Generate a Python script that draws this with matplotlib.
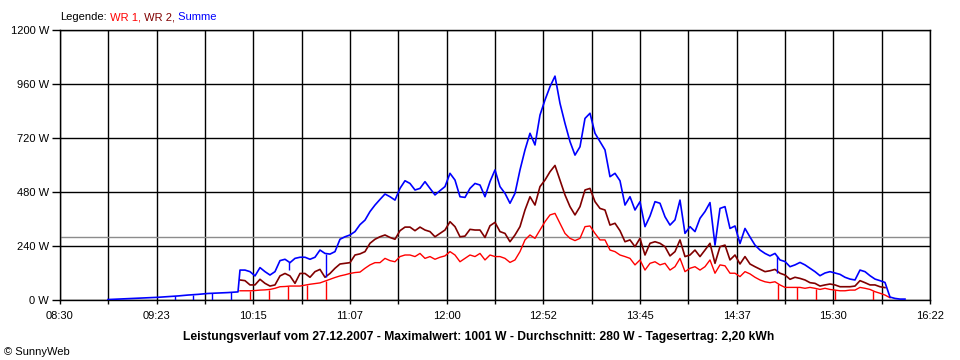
import numpy as np
import matplotlib
matplotlib.use("Agg")
import matplotlib.pyplot as plt

plt.rcParams['font.family'] = ['Liberation Sans', 'DejaVu Sans']


def clock(s):
    p = [int(v) for v in s.split(":")]
    while len(p) < 3:
        p.append(0)
    return p[0] * 60 + p[1] + p[2] / 60.0


# ---------------- data ----------------
x_tick_labels = ["08:30", "09:23", "10:15", "11:07", "12:00",
                 "12:52", "13:45", "14:37", "15:30", "16:22"]
y_ticks = [0, 240, 480, 720, 960, 1200]
y_tick_labels = ["0 W", "240 W", "480 W", "720 W", "960 W", "1200 W"]

average_w = 280

# Summe before the two inverters report (08:56 .. 10:06)
summe_early_start, summe_early_end = "08:56:02", "10:06:34"
summe_early = [2, 4, 6, 8, 10, 12, 15, 18, 22, 25, 29, 31, 33, 36]

# main logging grid (10:07:39 .. 16:08:26)
main_start, main_end = "10:07:39", "16:08:26"

summe = [133, 133, 126, 107, 144, 126, 111, 126, 175, 181,
         166, 185, 190, 190, 181, 190, 222, 207, 204, 215,
         270, 281, 289, 304, 335, 355, 393, 422, 447, 471,
         459, 444, 496, 530, 518, 489, 496, 526, 496, 467,
         486, 504, 563, 533, 459, 456, 496, 518, 511, 459,
         526, 578, 504, 474, 430, 474, 578, 667, 741, 689,
         822, 889, 948, 995, 874, 785, 704, 644, 681, 807,
         830, 741, 704, 667, 548, 563, 530, 422, 459, 400,
         437, 326, 373, 437, 430, 370, 333, 356, 444, 296,
         326, 304, 363, 393, 433, 244, 407, 415, 318, 329,
         251, 318, 280, 244, 222, 207, 196, 207, 178, 171,
         148, 156, 167, 156, 141, 126, 108, 120, 126, 120,
         114, 101, 93, 89, 133, 126, 108, 93, 86, 78,
         13, 7, 4, 4]

wr2 = [89, 86, 67, 67, 92, 74, 62, 67, 107, 118,
       107, 74, 118, 118, 101, 126, 136, 101, 118, 141,
       160, 163, 166, 200, 205, 215, 252, 270, 281, 289,
       278, 270, 308, 324, 324, 308, 324, 311, 304, 281,
       296, 311, 348, 326, 281, 284, 314, 311, 311, 278,
       330, 345, 304, 296, 259, 289, 326, 400, 459, 422,
       504, 533, 570, 598, 533, 467, 415, 378, 415, 489,
       496, 437, 407, 400, 333, 341, 308, 259, 267, 237,
       274, 200, 252, 259, 252, 237, 196, 215, 267, 193,
       200, 222, 193, 222, 252, 163, 237, 244, 178, 200,
       160, 193, 160, 148, 137, 126, 130, 136, 119, 111,
       92, 101, 96, 89, 77, 74, 62, 67, 71, 67,
       59, 59, 59, 62, 86, 77, 67, 67, 59, 55,
       None, None, None, None]

wr1 = [41, 41, 41, 42, 44, 45, 47, 52, 59, 60,
       62, 62, 62, 66, 70, 73, 76, 84, 92, 100,
       107, 112, 118, 122, 124, 141, 156, 166, 166, 185,
       175, 170, 193, 200, 200, 193, 207, 185, 193, 181,
       190, 196, 215, 200, 170, 185, 200, 193, 207, 178,
       200, 193, 193, 185, 167, 178, 215, 267, 289, 274,
       311, 348, 378, 385, 341, 296, 274, 264, 274, 326,
       329, 296, 267, 267, 222, 215, 200, 193, 185, 156,
       178, 133, 163, 170, 156, 163, 133, 148, 185, 126,
       141, 148, 133, 148, 178, 119, 156, 152, 119, 119,
       104, 126, 116, 101, 89, 81, 77, 81, 67, 56,
       56, 56, 56, 52, 56, 52, 47, 52, 47, 44,
       41, 41, 44, 44, 56, 52, 47, 37, 30, 22,
       10, None, None, None]

# short drop-outs (time, lowest value)
wr1_dips = [("10:13:05", 0), ("10:23:23", 0), ("10:33:42", 0), ("10:44:00", 0),
            ("10:54:19", 0), ("14:59:32", 0), ("15:09:50", 0), ("15:20:09", 0),
            ("15:30:28", 0), ("15:51:05", 0)]
summe_dips = [("09:32:23", 0), ("09:42:10", 0), ("09:52:28", 0), ("10:02:46", 0),
              ("10:34:14", 133), ("10:54:19", 104), ("14:59:00", 120)]

title = ("Leistungsverlauf vom 27.12.2007 - Maximalwert: 1001 W - "
         "Durchschnitt: 280 W - Tagesertrag: 2,20 kWh")

# ---------------- figure ----------------
RED, MAROON, BLUE = "#ff0000", "#800000", "#0000ff"

fig = plt.figure(figsize=(9.6, 3.6), dpi=100)
fig.patch.set_facecolor("white")
ax = fig.add_axes([60 / 960, 1 - 300 / 360, 870 / 960, 270 / 360])

x0, x1 = clock(x_tick_labels[0]), clock(x_tick_labels[-1])
ax.set_xlim(x0, x1)
ax.set_ylim(0, 1200)

major = np.linspace(x0, x1, len(x_tick_labels))
minor = (major[:-1] + major[1:]) / 2
ax.set_xticks(major)
ax.set_xticklabels(x_tick_labels)
ax.set_xticks(minor, minor=True)
ax.set_yticks(y_ticks)
ax.set_yticklabels(y_tick_labels)

for xv in list(major) + list(minor):
    ax.axvline(xv, color="black", lw=1.0, zorder=1)
for yv in y_ticks:
    ax.axhline(yv, color="black", lw=1.0, zorder=1)

ax.axhline(average_w, color="#8c8c8c", lw=1.0, zorder=2)

t_early = np.linspace(clock(summe_early_start), clock(summe_early_end), len(summe_early))
t_main = np.linspace(clock(main_start), clock(main_end), len(summe))

wr1_a = np.array([np.nan if v is None else v for v in wr1], dtype=float)
wr2_a = np.array([np.nan if v is None else v for v in wr2], dtype=float)
summe_t = np.concatenate([t_early, t_main])
summe_a = np.concatenate([np.array(summe_early, float), np.array(summe, float)])

ax.plot(t_main, wr1_a, color=RED, lw=1.0, zorder=3)
ax.plot(t_main, wr2_a, color=MAROON, lw=1.2, zorder=4)
ax.plot(summe_t, summe_a, color=BLUE, lw=1.2, zorder=5)

ok1 = ~np.isnan(wr1_a)
for ts, low in wr1_dips:
    t = clock(ts)
    top = np.interp(t, t_main[ok1], wr1_a[ok1])
    ax.vlines(t, low, top, color=RED, lw=1.0, zorder=3)
for ts, low in summe_dips:
    t = clock(ts)
    top = np.interp(t, summe_t, summe_a)
    ax.vlines(t, low, top, color=BLUE, lw=1.0, zorder=5)

for s in ax.spines.values():
    s.set_color("black")
    s.set_linewidth(1.0)

ax.tick_params(axis="y", which="major", direction="out", length=6, width=1,
               pad=2, labelsize=8, colors="black")
ax.tick_params(axis="x", which="both", direction="out", length=3, width=1,
               pad=5, labelsize=8, colors="black")

# legend line (multi-coloured)
t0 = ax.text(0.0, 1.048, "Legende:", transform=ax.transAxes, fontsize=8,
             ha="left", va="center", color="black")
prev = t0
for s, c in [(" WR 1,", RED), (" WR 2,", MAROON), (" Summe", BLUE)]:
    prev = ax.annotate(s, xy=(1, 0), xycoords=prev, ha="left", va="bottom",
                       fontsize=8, color=c, annotation_clip=False)

fig.text(479 / 960, 1 - 337 / 360, title, ha="center", va="center",
         fontsize=8.7, fontweight="bold", color="black")
fig.text(4 / 960, 1 - 352 / 360, "\u00a9 SunnyWeb", ha="left", va="center",
         fontsize=8, color="black")

fig.savefig("out.png", dpi=100, facecolor="white")
